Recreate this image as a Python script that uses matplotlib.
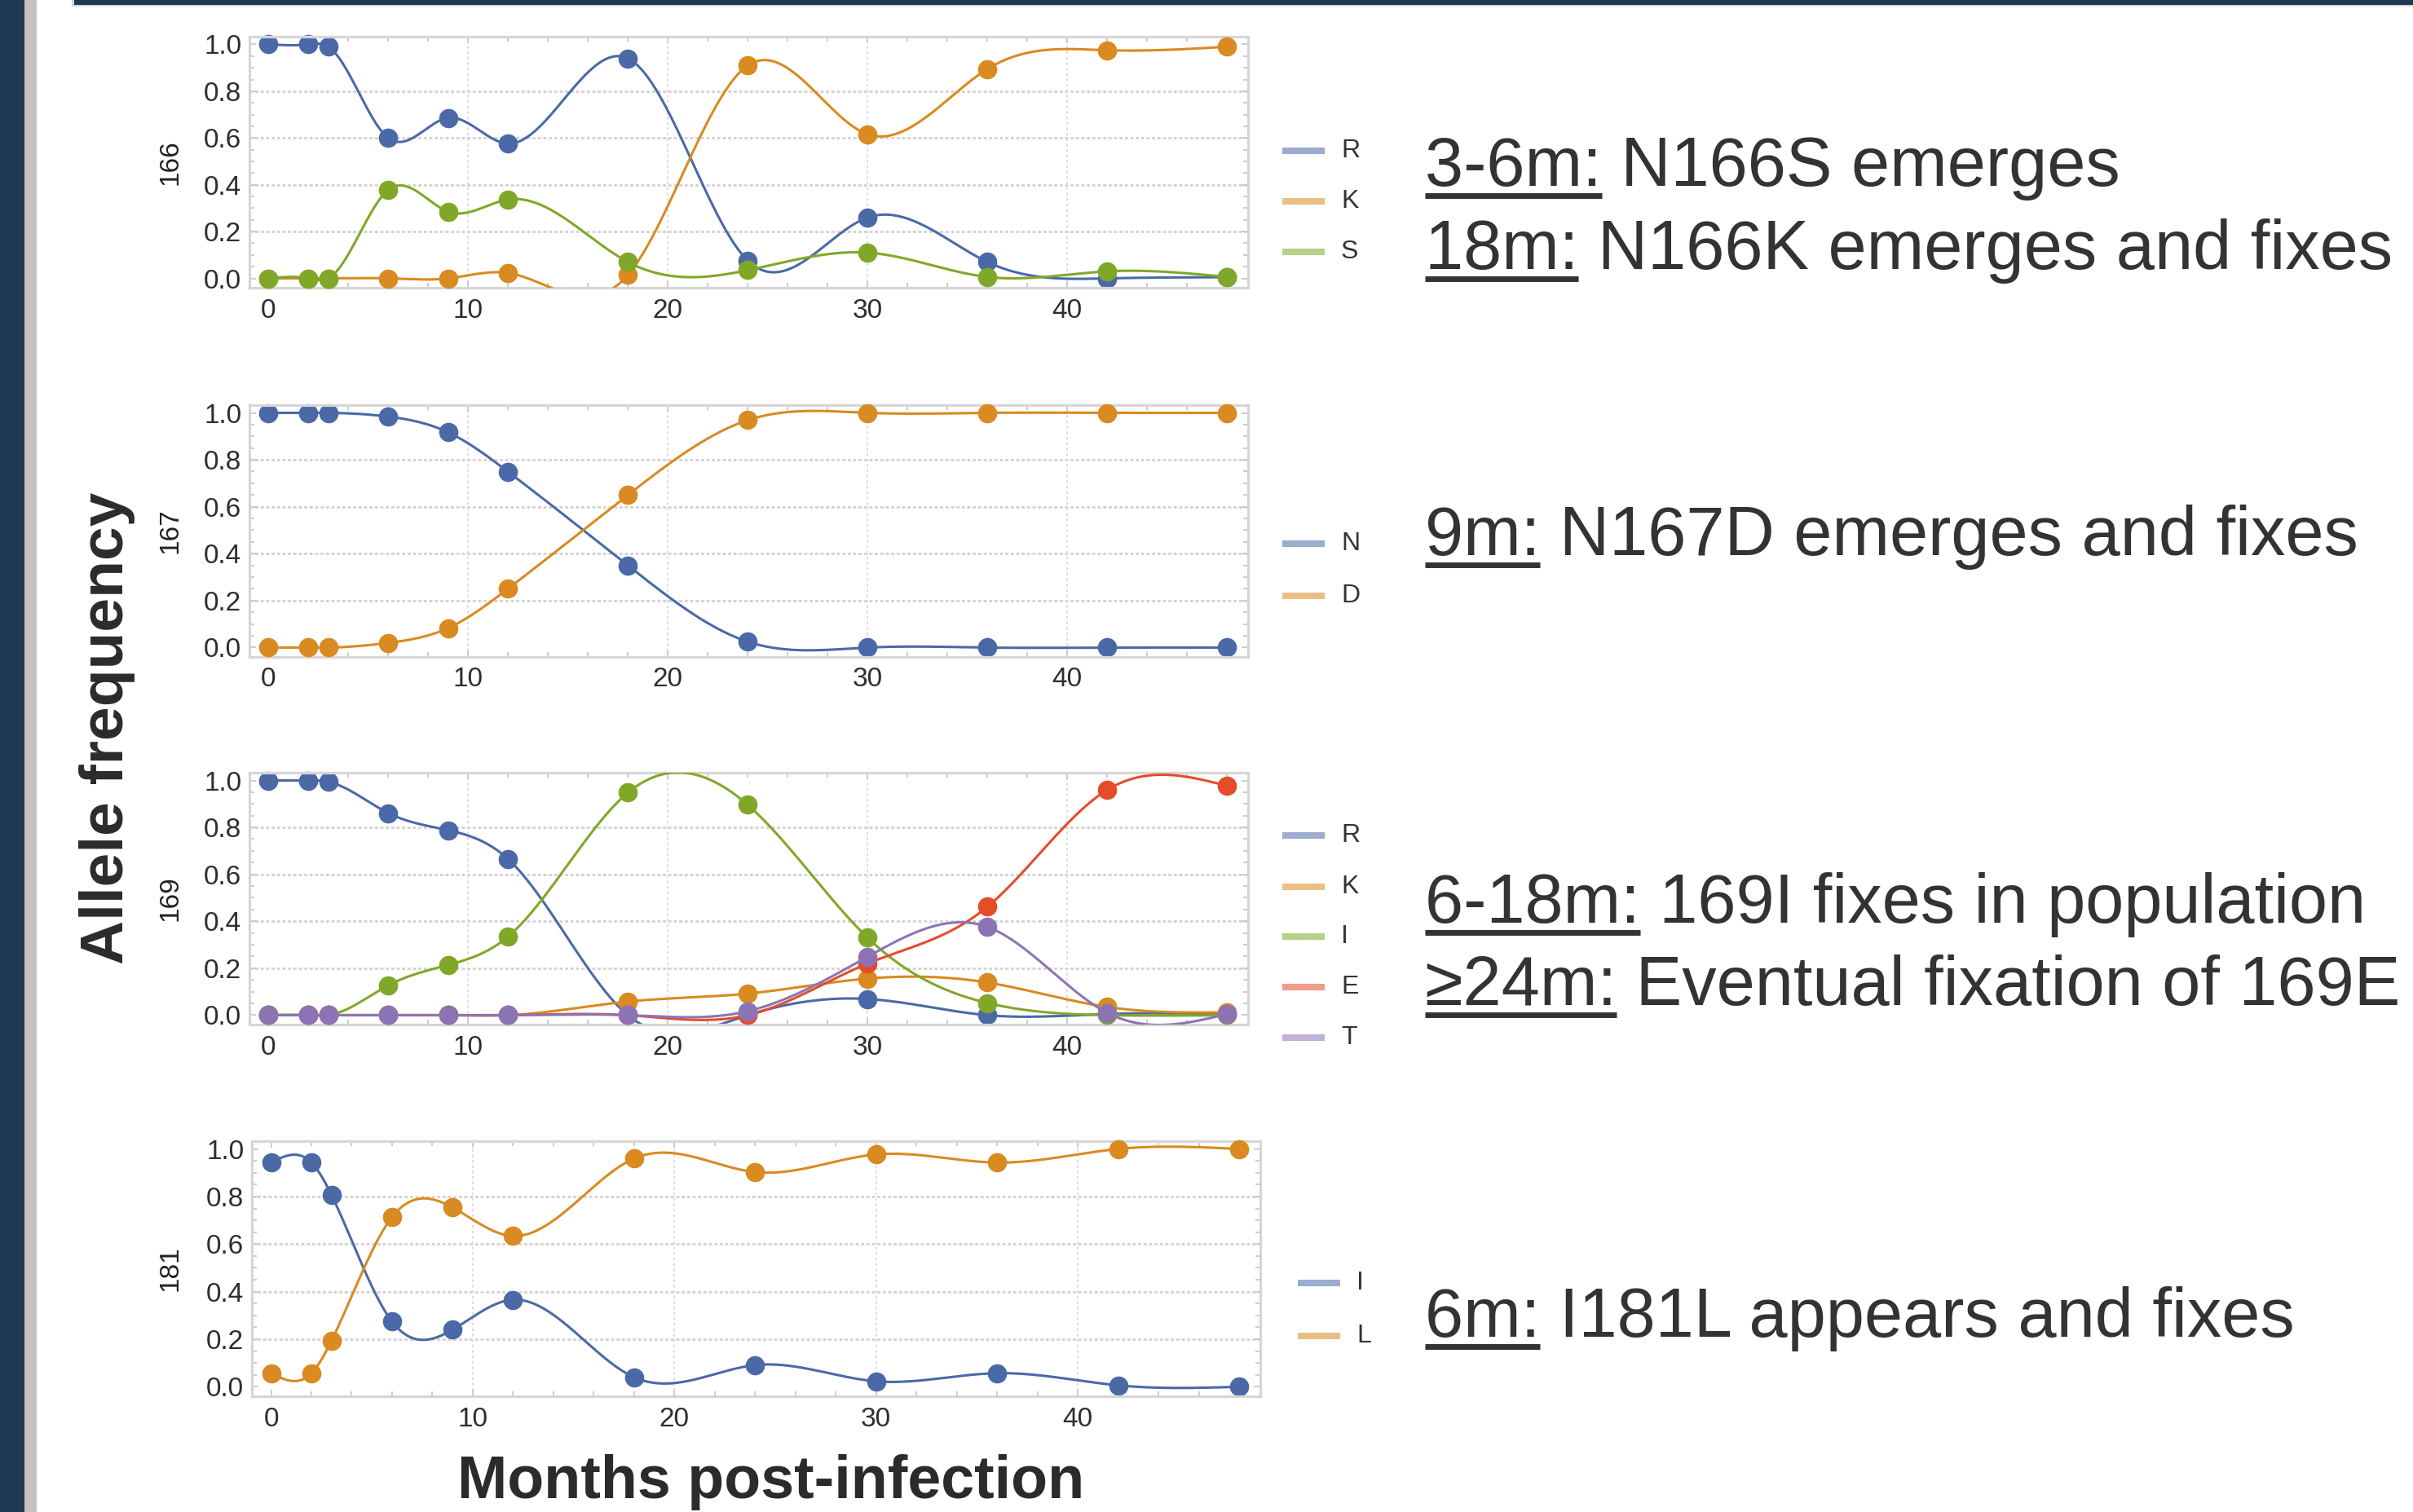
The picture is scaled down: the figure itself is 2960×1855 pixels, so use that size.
import numpy as np
import matplotlib
matplotlib.use("Agg")
import matplotlib.pyplot as plt
from matplotlib.lines import Line2D
from matplotlib.patches import Rectangle
from matplotlib.ticker import MultipleLocator, FixedLocator

plt.rcParams['font.family'] = ['Liberation Sans', 'DejaVu Sans']

# ---------------- data ----------------
months = [0, 2, 3, 6, 9, 12, 18, 24, 30, 36, 42, 48]

alleles_166 = ["R", "K", "S"]
R166 = [1.0, 1.0, 0.99, 0.60, 0.686, 0.576, 0.94, 0.076, 0.26, 0.07, 0.0, 0.005]
K166 = [0.0, 0.0, 0.0, 0.0, 0.0, 0.023, 0.015, 0.91, 0.616, 0.895, 0.975, 0.99]
S166 = [0.0, 0.0, 0.0, 0.378, 0.285, 0.337, 0.07, 0.035, 0.11, 0.006, 0.03, 0.006]

alleles_167 = ["N", "D"]
N167 = [1.0, 1.0, 1.0, 0.984, 0.917, 0.749, 0.35, 0.025, 0.0, 0.0, 0.0, 0.0]
D167 = [0.0, 0.0, 0.0, 0.02, 0.083, 0.251, 0.65, 0.969, 1.0, 1.0, 1.0, 1.0]

alleles_169 = ["R", "K", "I", "E", "T"]
R169 = [1.0, 1.0, 0.994, 0.861, 0.788, 0.665, 0.0, 0.0, 0.069, 0.0, 0.005, 0.005]
K169 = [0.0, 0.0, 0.0, 0.0, 0.0, 0.0, 0.058, 0.092, 0.156, 0.139, 0.035, 0.012]
I169 = [0.0, 0.0, 0.0, 0.127, 0.214, 0.335, 0.948, 0.896, 0.33, 0.052, 0.0, 0.0]
E169 = [0.0, 0.0, 0.0, 0.0, 0.0, 0.0, 0.0, 0.0, 0.22, 0.462, 0.96, 0.977]
T169 = [0.0, 0.0, 0.0, 0.0, 0.0, 0.0, 0.0, 0.017, 0.249, 0.376, 0.01, 0.005]

alleles_181 = ["I", "L"]
I181 = [0.943, 0.943, 0.806, 0.274, 0.24, 0.366, 0.04, 0.091, 0.023, 0.057, 0.006, 0.0]
L181 = [0.057, 0.057, 0.194, 0.714, 0.754, 0.634, 0.96, 0.903, 0.977, 0.943, 1.0, 1.0]

positions = ["166", "167", "169", "181"]
x_ticks = [0, 10, 20, 30, 40]
y_ticks = [0.0, 0.2, 0.4, 0.6, 0.8, 1.0]

notes_166 = [("3-6m:", " N166S emerges"), ("18m:", " N166K emerges and fixes")]
notes_167 = [("9m:", " N167D emerges and fixes")]
notes_169 = [("6-18m:", " 169I fixes in population"), ("\u226524m:", " Eventual fixation of 169E")]
notes_181 = [("6m:", " I181L appears and fixes")]

# ---------------- style ----------------
W, H = 2960, 1855
COLORS = ["#4A69A6", "#D98A20", "#80A828", "#E44C2A", "#8C74B4"]
TXT = "#333333"
FRAME = "#d6d6d6"
NAVY = "#1F3854"

fig = plt.figure(figsize=(W / 100, H / 100), dpi=100)
fig.patch.set_facecolor("white")


def natural_spline(x, y, num=800):
    x = np.asarray(x, float)
    y = np.asarray(y, float)
    n = len(x)
    h = np.diff(x)
    A = np.zeros((n, n))
    b = np.zeros(n)
    A[0, 0] = A[-1, -1] = 1.0
    for i in range(1, n - 1):
        A[i, i - 1] = h[i - 1]
        A[i, i] = 2 * (h[i - 1] + h[i])
        A[i, i + 1] = h[i]
        b[i] = 6 * ((y[i + 1] - y[i]) / h[i] - (y[i] - y[i - 1]) / h[i - 1])
    M = np.linalg.solve(A, b)
    xs = np.linspace(x[0], x[-1], num)
    idx = np.clip(np.searchsorted(x, xs) - 1, 0, n - 2)
    x0, x1 = x[idx], x[idx + 1]
    hh = x1 - x0
    t0, t1 = x1 - xs, xs - x0
    ys = (M[idx] * t0 ** 3 / (6 * hh) + M[idx + 1] * t1 ** 3 / (6 * hh)
          + (y[idx] / hh - M[idx] * hh / 6) * t0 + (y[idx + 1] / hh - M[idx + 1] * hh / 6) * t1)
    return xs, ys


def px_axes(left, top, right, bottom):
    return fig.add_axes([left / W, 1 - bottom / H, (right - left) / W, (bottom - top) / H])


panels = [
    dict(box=(306, 45, 1531, 353), pos=positions[0], names=alleles_166,
         series=[R166, K166, S166], leg_x=1573, leg_y=[185, 247, 309],
         notes=notes_166, note_base=[228, 330]),
    dict(box=(306, 497, 1531, 806), pos=positions[1], names=alleles_167,
         series=[N167, D167], leg_x=1573, leg_y=[667, 731],
         notes=notes_167, note_base=[681]),
    dict(box=(306, 948, 1531, 1257), pos=positions[2], names=alleles_169,
         series=[R169, K169, I169, E169, T169], leg_x=1573,
         leg_y=[1025, 1088, 1149, 1211, 1273],
         notes=notes_169, note_base=[1132, 1233]),
    dict(box=(309, 1400, 1546, 1713), pos=positions[3], names=alleles_181,
         series=[I181, L181], leg_x=1592, leg_y=[1574, 1639],
         notes=notes_181, note_base=[1640]),
]

renderer = fig.canvas.get_renderer()

for p in panels:
    l, t, r, b = p["box"]
    ax = px_axes(l, t, r, b)
    ax.set_xlim(-0.95, 49.05)
    ax.set_ylim(-0.04, 1.033)
    # grid
    for gy in [0.2, 0.4, 0.6, 0.8]:
        ax.axhline(gy, color="#d2d2d2", lw=2.0, ls=(0, (1.4, 1.0)), zorder=0)
    for gx in x_ticks[1:]:
        ax.axvline(gx, color="#d8d8d8", lw=1.2, ls=(0, (2.0, 2.0)), zorder=0)
    # series
    for k, (vals, name) in enumerate(zip(p["series"], p["names"])):
        c = COLORS[k]
        xs, ys = natural_spline(months, vals)
        ax.plot(xs, ys, color=c, lw=2.2, zorder=2 + k, solid_joinstyle="round")
        ax.plot(months, vals, ls="none", marker="o", ms=17, color=c,
                mec="none", zorder=2 + k, clip_on=False)
    # frame
    for s in ax.spines.values():
        s.set_color(FRAME)
        s.set_linewidth(2.3)
    ax.xaxis.set_major_locator(FixedLocator(x_ticks))
    ax.xaxis.set_minor_locator(MultipleLocator(2))
    ax.yaxis.set_major_locator(FixedLocator(y_ticks))
    ax.yaxis.set_minor_locator(MultipleLocator(0.05))
    ax.tick_params(which="both", direction="in", top=True, right=True,
                   color="#cccccc", width=1.4, labelcolor="#2e2e2e", labelsize=24)
    ax.tick_params(which="major", length=6)
    ax.tick_params(which="minor", length=4)
    ax.tick_params(axis="x", pad=9)
    ax.tick_params(axis="y", pad=7)
    ax.set_xticklabels([str(v) for v in x_ticks])
    ax.set_yticklabels(["%.1f" % v for v in y_ticks])
    # position label
    fig.text(209 / W, 1 - ((t + b) / 2) / H, p["pos"], rotation=90,
             ha="center", va="center", fontsize=24, color="#222222")
    # legend
    lx = p["leg_x"]
    for k, (name, ly) in enumerate(zip(p["names"], p["leg_y"])):
        fig.add_artist(Line2D([lx / W, (lx + 52) / W], [1 - ly / H, 1 - ly / H],
                              transform=fig.transFigure, color=COLORS[k],
                              alpha=0.55, lw=5.8, solid_capstyle="butt"))
        fig.text((lx + 72) / W, 1 - ly / H, name, ha="left", va="center",
                 fontsize=23, color=TXT)
    # notes with underlined prefix
    for (pre, rest), base in zip(p["notes"], p["note_base"]):
        x0 = 1748
        fig.text(x0 / W, 1 - base / H, pre + rest, ha="left", va="baseline",
                 fontsize=61, color=TXT)
        tmp = fig.text(x0 / W, 1 - base / H, pre, ha="left", va="baseline",
                       fontsize=61, color=TXT)
        bb = tmp.get_window_extent(renderer)
        tmp.remove()
        uy = base + 11.5
        fig.add_artist(Line2D([x0 / W, (x0 + bb.width) / W], [1 - uy / H, 1 - uy / H],
                              transform=fig.transFigure, color=TXT, lw=5.0,
                              solid_capstyle="butt"))

# axis titles
fig.text(151 / W, 1 - 893 / H, "Allele frequency", rotation=90, rotation_mode="anchor",
         ha="center", va="baseline", fontsize=54, fontweight="bold", color="#2b2b2b")
fig.text(946 / W, 1 - 1838 / H, "Months post-infection", ha="center", va="baseline",
         fontsize=53, fontweight="bold", color="#2b2b2b")

# slide decorations
fig.add_artist(Rectangle((0, 0), 30 / W, 1, transform=fig.transFigure,
                         facecolor=NAVY, edgecolor="none", zorder=10))
fig.add_artist(Rectangle((30 / W, 0), 15 / W, 1, transform=fig.transFigure,
                         facecolor="#C6C3BE", edgecolor="none", zorder=10))
fig.add_artist(Rectangle((88 / W, 1 - 8 / H), (W - 88) / W, 8 / H, transform=fig.transFigure,
                         facecolor="#cfd3d8", edgecolor="none", zorder=10))
fig.add_artist(Rectangle((91 / W, 1 - 5.5 / H), (W - 91) / W, 5.5 / H, transform=fig.transFigure,
                         facecolor=NAVY, edgecolor="none", zorder=11))

fig.savefig("out.png", dpi=100, facecolor="white")
